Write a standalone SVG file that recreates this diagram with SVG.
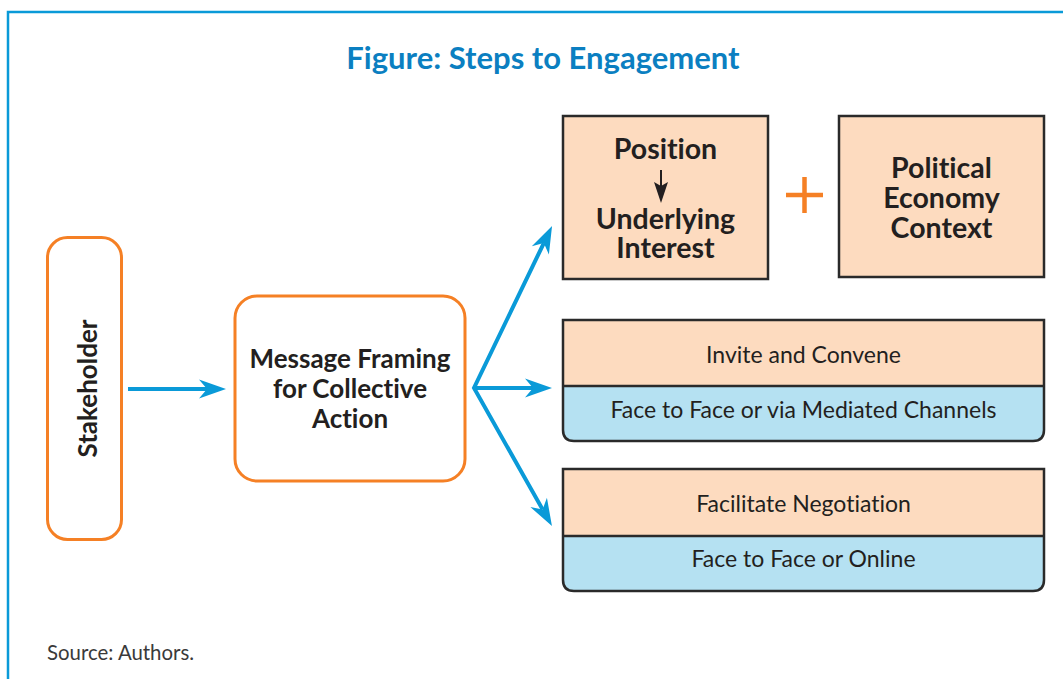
<svg xmlns="http://www.w3.org/2000/svg" width="1063" height="679" viewBox="0 0 1063 679">
  <style>
    text { font-variant-ligatures: none; }
    .frame { fill: none; stroke: #0a9ad8; stroke-width: 2.5; }
    .title { font-family: Lato, "Open Sans", sans-serif; font-weight: bold; font-size: 31px; fill: #0b7fc1; text-anchor: middle; }
    .source { font-family: Lato, "Open Sans", sans-serif; font-size: 20.4px; fill: #3a3a3a; }
    .orange-box { fill: #ffffff; stroke: #f58025; stroke-width: 3; }
    .dark-box { fill: #fddbbf; stroke: #2a2a2a; stroke-width: 2.5; }
    .outline { fill: none; stroke: #2a2a2a; stroke-width: 2.5; }
    .peach { fill: #fddbbf; }
    .sky { fill: #b5e1f2; }
    .bold { font-family: Lato, "Open Sans", sans-serif; font-weight: bold; fill: #231f20; text-anchor: middle; }
    .reg { font-family: Lato, "Open Sans", sans-serif; font-size: 23px; fill: #231f20; text-anchor: middle; }
    .flow { fill: none; stroke: #0a9ad8; stroke-width: 4; stroke-linejoin: miter; stroke-miterlimit: 10; }
  </style>
  <defs>
    <marker id="head" markerUnits="userSpaceOnUse" viewBox="-9 -10 29 20" refX="0" refY="0" markerWidth="29" markerHeight="20" orient="auto-start-reverse">
      <path d="M-8,-9.5 L19,0 L-8,9.5 L0,0 Z" fill="#0a9ad8"/>
    </marker>
  </defs>

  <!-- page frame -->
  <path class="frame" d="M8,700 V12 H1080"/>

  <text class="title" x="543" y="69">Figure: Steps to Engagement</text>

  <!-- connectors -->
  <g id="connectors">
    <line class="flow" x1="128" y1="389" x2="207" y2="389" marker-end="url(#head)"/>
    <path class="flow" d="M543.8,243.1 L474,388 L542.6,509.4" marker-start="url(#head)" marker-end="url(#head)"/>
    <line class="flow" x1="474" y1="388" x2="533" y2="388" marker-end="url(#head)"/>
  </g>

  <g id="stakeholder">
    <rect class="orange-box" x="47.5" y="237.5" width="74" height="302" rx="20"/>
    <text class="bold" font-size="26" transform="translate(96.5,388.5) rotate(-90)" x="0" y="0">Stakeholder</text>
  </g>

  <g id="message-framing">
    <rect class="orange-box" x="235" y="296" width="230" height="185" rx="22"/>
    <text class="bold" font-size="26" x="350" y="368">Message Framing</text>
    <text class="bold" font-size="26" x="350" y="398">for Collective</text>
    <text class="bold" font-size="26" x="350" y="428">Action</text>
  </g>

  <g id="position-interest">
    <rect class="dark-box" x="563" y="116" width="205" height="163"/>
    <text class="bold" font-size="28.5" x="665.5" y="159">Position</text>
    <line x1="661" y1="170" x2="661" y2="190" stroke="#231f20" stroke-width="2"/>
    <path d="M654,182 L661,203 L668,182 L661,186 Z" fill="#231f20"/>
    <text class="bold" font-size="28.5" x="665.5" y="229">Underlying</text>
    <text class="bold" font-size="28.5" x="665.5" y="258">Interest</text>
  </g>

  <g id="plus">
    <path d="M786,195 H823 M804.5,177 V213" stroke="#f58025" stroke-width="4.5" fill="none"/>
  </g>

  <g id="political-economy">
    <rect class="dark-box" x="839" y="116" width="205" height="161"/>
    <text class="bold" font-size="28.5" x="941.5" y="178">Political</text>
    <text class="bold" font-size="28.5" x="941.5" y="208">Economy</text>
    <text class="bold" font-size="28.5" x="941.5" y="238">Context</text>
  </g>

  <g id="invite-convene">
    <rect class="peach" x="563" y="320" width="481" height="66"/>
    <path class="sky" d="M563,386 H1044 V430 Q1044,441 1033,441 H574 Q563,441 563,430 Z"/>
    <path class="outline" d="M563,320 H1044 V430 Q1044,441 1033,441 H574 Q563,441 563,430 Z M563,386 H1044"/>
    <text class="reg" x="803.5" y="363">Invite and Convene</text>
    <text class="reg" x="803.5" y="418">Face to Face or via Mediated Channels</text>
  </g>

  <g id="facilitate-negotiation">
    <rect class="peach" x="563" y="469" width="481" height="67"/>
    <path class="sky" d="M563,536 H1044 V580 Q1044,591 1033,591 H574 Q563,591 563,580 Z"/>
    <path class="outline" d="M563,469 H1044 V580 Q1044,591 1033,591 H574 Q563,591 563,580 Z M563,536 H1044"/>
    <text class="reg" x="803.5" y="512">Facilitate Negotiation</text>
    <text class="reg" x="803.5" y="567">Face to Face or Online</text>
  </g>

  <text class="source" x="47" y="660">Source: Authors.</text>
</svg>
